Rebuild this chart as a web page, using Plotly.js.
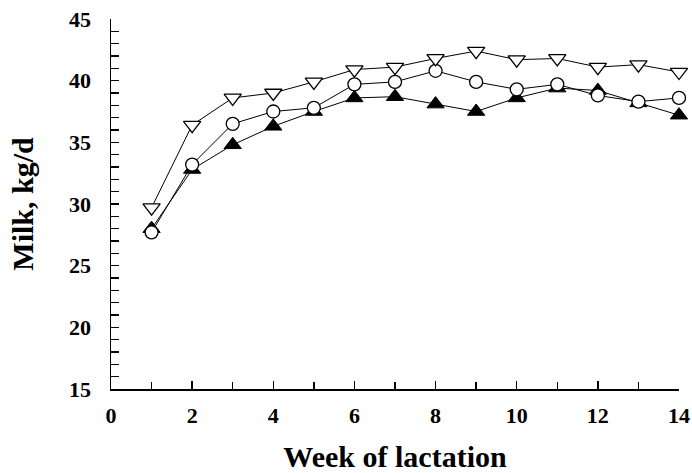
<!DOCTYPE html>
<html>
<head>
<meta charset="utf-8">
<script src="https://cdn.plot.ly/plotly-3.0.1.min.js"></script>
<style>html,body{margin:0;padding:0;background:#fff;}#chart{width:692px;height:473px;}</style>
</head>
<body>
<div id="chart"></div>
<script>
const weeks = [1,2,3,4,5,6,7,8,9,10,11,12,13,14];
const seriesOpenTriangle = [29.7,36.4,38.6,39.0,39.9,40.9,41.1,41.8,42.4,41.7,41.8,41.1,41.3,40.7];
const seriesOpenCircle   = [27.7,33.2,36.5,37.5,37.8,39.7,39.9,40.8,39.9,39.3,39.7,38.8,38.3,38.6];
const seriesFilledTriangle = [28.0,32.8,34.8,36.3,37.5,38.6,38.7,38.1,37.5,38.6,39.4,39.2,38.2,37.2];
const xTickVals = [0,2,4,6,8,10,12,14];
const yTickVals = [15,20,25,30,35,40,45];

const fontFam = '"Liberation Serif", "Times New Roman", serif';
const lineStyle = {color:'#000', width:1};

const traces = [
  {x:weeks, y:seriesFilledTriangle, mode:'lines+markers', line:lineStyle, cliponaxis:false,
   marker:{symbol:'triangle-up', size:15, color:'#000', line:{color:'#000', width:1}}},
  {x:weeks, y:seriesOpenCircle, mode:'lines+markers', line:lineStyle, cliponaxis:false,
   marker:{symbol:'circle', size:13, color:'#fff', line:{color:'#000', width:1.3}}},
  {x:weeks, y:seriesOpenTriangle, mode:'lines+markers', line:lineStyle, cliponaxis:false,
   marker:{symbol:'triangle-down', size:15, color:'#fff', line:{color:'#000', width:1.3}}}
];

const layout = {
  width:692, height:473,
  margin:{l:111, r:13, t:19, b:84},
  paper_bgcolor:'#fff', plot_bgcolor:'#fff',
  showlegend:false,
  font:{family:fontFam, color:'#000'},
  xaxis:{
    range:[0,14], tickvals:xTickVals, ticktext:xTickVals.map(String),
    ticks:'inside', ticklen:8, tickwidth:1.3, tickcolor:'#000',
    minor:{dtick:1, tick0:0, ticks:'inside', ticklen:7, tickwidth:1.3, tickcolor:'#000'},
    showline:true, linecolor:'#000', linewidth:1.5, showgrid:false, zeroline:false,
    ticklabelstandoff:6,
    tickfont:{family:fontFam, size:22, color:'#000', weight:'bold'},
    title:{text:'<b>Week of lactation</b>', font:{family:fontFam, size:30, color:'#000'}, standoff:29}
  },
  yaxis:{
    range:[15,45], tickvals:yTickVals, ticktext:yTickVals.map(String),
    ticks:'inside', ticklen:8, tickwidth:1.3, tickcolor:'#000',
    minor:{dtick:1, tick0:15, ticks:'inside', ticklen:8, tickwidth:1.3, tickcolor:'#000'},
    showline:true, linecolor:'#000', linewidth:1.5, showgrid:false, zeroline:false,
    ticklabelstandoff:14,
    tickfont:{family:fontFam, size:22, color:'#000', weight:'bold'},
    title:{text:'<b>Milk, kg/d</b>', font:{family:fontFam, size:30, color:'#000'}, standoff:26}
  }
};

Plotly.newPlot('chart', traces, layout, {displayModeBar:false, staticPlot:true});
</script>
</body>
</html>
